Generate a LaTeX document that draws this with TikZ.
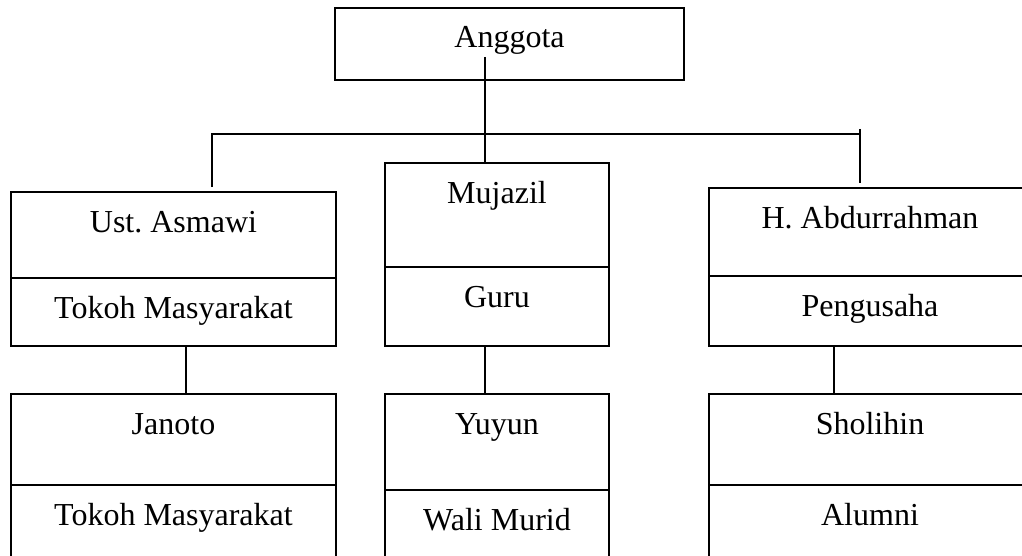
\documentclass[tikz,border=0pt]{standalone}
\usepackage{fontspec}
\setmainfont{Liberation Serif}
\usetikzlibrary{positioning}
\frenchspacing

\tikzset{
  cell/.style 2 args={draw, line width=0.9pt, inner sep=0pt, outer sep=0pt,
    minimum width=#1, text height=20pt, text depth=#2,
    font=\fontsize{16}{19}\selectfont},
  link/.style={line width=0.9pt}
}

\begin{document}
\begin{tikzpicture}[x=0.5pt, y=-0.5pt]
    \useasboundingbox (0,0) rectangle (1022,556);
    \clip (0,0) rectangle (1022,556);

    \node[cell={174.5pt}{16pt}, anchor=north west] (anggota) at (335,8) {Anggota};

    \node[cell={162.5pt}{23pt}, anchor=north west] (asmawi) at (11,192) {Ust. Asmawi};
    \node[cell={162.5pt}{14pt}, below=0pt of asmawi] (asmawirole) {Tokoh Masyarakat};
    \node[cell={112pt}{32pt}, anchor=north west] (mujazil) at (385,163) {Mujazil};
    \node[cell={112pt}{19.5pt}, below=0pt of mujazil] (guru) {Guru};
    \node[cell={161pt}{24pt}, anchor=north west] (abdurrahman) at (709,188) {H. Abdurrahman};
    \node[cell={161pt}{15pt}, below=0pt of abdurrahman] (pengusaha) {Pengusaha};

    \node[cell={162.5pt}{25.5pt}, anchor=north west] (janoto) at (11,394) {Janoto};
    \node[cell={162.5pt}{25pt}, below=0pt of janoto] (janotorole) {Tokoh Masyarakat};
    \node[cell={112pt}{28pt}, anchor=north west] (yuyun) at (385,394) {Yuyun};
    \node[cell={112pt}{25pt}, below=0pt of yuyun] (walimurid) {Wali Murid};
    \node[cell={161pt}{25.5pt}, anchor=north west] (sholihin) at (709,394) {Sholihin};
    \node[cell={161pt}{25pt}, below=0pt of sholihin] (alumni) {Alumni};

    % stem and bus
    \coordinate (stem) at (485,57);
    \draw[link] (stem) -- (stem |- mujazil.north);
    \coordinate (dropL) at (212,187);
    \coordinate (busR) at (860,134);
    \draw[link] (dropL) |- (busR);
    \coordinate (tickT) at (860,129);
    \coordinate (tickB) at (860,183);
    \draw[link] (tickT) -- (tickB);

    % lower links
    \draw[link] ([xshift=6.25pt]asmawirole.south) -- ([xshift=6.25pt]janoto.north);
    \draw[link] ([xshift=-6pt]guru.south) -- ([xshift=-6pt]yuyun.north);
    \draw[link] ([xshift=-18pt]pengusaha.south) -- ([xshift=-18pt]sholihin.north);
\end{tikzpicture}
\end{document}
